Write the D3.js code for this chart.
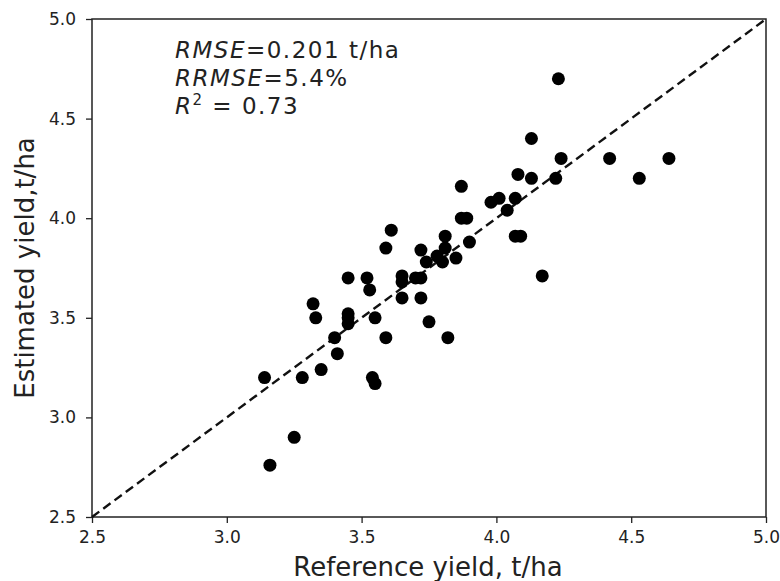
<!DOCTYPE html>
<html>
<head>
<meta charset="utf-8">
<script src="https://cdn.jsdelivr.net/npm/d3@7"></script>
<style>
  body { margin: 0; background: #fff; }
  text { font-family: "DejaVu Sans", sans-serif; fill: #222; }
</style>
</head>
<body>
<div class="scatter"></div>
<script>
// data
var referenceYield = [3.14, 3.16, 3.25, 3.28, 3.35, 3.41, 3.40, 3.32, 3.33, 3.45,
  3.45, 3.45, 3.45, 3.52, 3.53, 3.55, 3.54, 3.55, 3.59, 3.59,
  3.61, 3.65, 3.65, 3.65, 3.70, 3.72, 3.72, 3.72, 3.75, 3.82,
  3.74, 3.78, 3.80, 3.85, 3.81, 3.81, 3.90, 3.87, 3.89, 3.87,
  3.98, 4.01, 4.07, 4.04, 4.08, 4.07, 4.09, 4.17, 4.13, 4.13,
  4.23, 4.22, 4.24, 4.42, 4.53, 4.64];
var estimatedYield = [3.20, 2.76, 2.90, 3.20, 3.24, 3.32, 3.40, 3.57, 3.50, 3.52,
  3.50, 3.47, 3.70, 3.70, 3.64, 3.50, 3.20, 3.17, 3.40, 3.85,
  3.94, 3.71, 3.68, 3.60, 3.70, 3.70, 3.60, 3.84, 3.48, 3.40,
  3.78, 3.81, 3.78, 3.80, 3.85, 3.91, 3.88, 4.00, 4.00, 4.16,
  4.08, 4.10, 4.10, 4.04, 4.22, 3.91, 3.91, 3.71, 4.20, 4.40,
  4.70, 4.20, 4.30, 4.30, 4.20, 4.30];
var tickValues = [2.5, 3.0, 3.5, 4.0, 4.5, 5.0];
var statLines = [
  { name: "RMSE", rest: "=0.201 t/ha" },
  { name: "RRMSE", rest: "=5.4%" },
  { name: "R", sup: "2", rest: " = 0.73" }
];

var svgWidth = 780;
var svgHeight = 581;
var margin = { top: 19, right: 14, bottom: 64, left: 92 };
var width = svgWidth - margin.left - margin.right;
var height = svgHeight - margin.top - margin.bottom;

var svg = d3.select(".scatter")
  .append("svg")
  .attr("width", svgWidth)
  .attr("height", svgHeight);

var chartGroup = svg.append("g")
  .attr("transform", `translate(${margin.left}, ${margin.top})`);

var x = d3.scaleLinear().domain([2.5, 5.0]).range([0, width]);
var y = d3.scaleLinear().domain([2.5, 5.0]).range([height, 0]);

// axes
var xAxis = chartGroup.append("g")
  .attr("transform", `translate(0, ${height})`)
  .call(d3.axisBottom(x).tickValues(tickValues).tickFormat(d3.format(".1f")).tickSize(6).tickPadding(8));
var yAxis = chartGroup.append("g")
  .call(d3.axisLeft(y).tickValues(tickValues).tickFormat(d3.format(".1f")).tickSize(6).tickPadding(10));
[xAxis, yAxis].forEach(function(a) {
  a.select(".domain").remove();
  a.selectAll("line").attr("stroke", "#222").attr("stroke-width", 1.3);
  a.selectAll("text").style("font-size", "17px").attr("fill", "#222");
});

// frame
chartGroup.append("rect")
  .attr("width", width)
  .attr("height", height)
  .attr("fill", "none")
  .attr("stroke", "#222")
  .attr("stroke-width", 1.5);

// 1:1 line
chartGroup.append("line")
  .attr("x1", x(2.5)).attr("y1", y(2.5))
  .attr("x2", x(5.0)).attr("y2", y(5.0))
  .attr("stroke", "#111")
  .attr("stroke-width", 2.4)
  .attr("stroke-dasharray", "9,5");

// dots
chartGroup.append("g")
  .selectAll("circle")
  .data(referenceYield)
  .join("circle")
  .attr("cx", function(d) { return x(d); })
  .attr("cy", function(d, i) { return y(estimatedYield[i]); })
  .attr("r", 6.5)
  .style("fill", "#000");

// stats text
var stats = chartGroup.append("g");
statLines.forEach(function(s, i) {
  var t = stats.append("text")
    .attr("x", 83)
    .attr("y", 38.5 + i * 28)
    .style("font-size", "23px")
    .style("letter-spacing", "1.5px");
  t.append("tspan").style("font-style", "italic").text(s.name);
  if (s.sup) {
    t.append("tspan").attr("dy", -9).style("font-size", "15px").text(s.sup);
    t.append("tspan").attr("dy", 9).text(s.rest);
  } else {
    t.append("tspan").text(s.rest);
  }
});

// axis labels
svg.append("text")
  .attr("x", margin.left + width / 2 - 1)
  .attr("y", 576)
  .attr("text-anchor", "middle")
  .style("font-size", "26px")
  .text("Reference yield, t/ha");

svg.append("text")
  .attr("transform", `translate(34, ${margin.top + height / 2}) rotate(-90)`)
  .attr("text-anchor", "middle")
  .style("font-size", "26px")
  .text("Estimated yield,t/ha");
</script>
</body>
</html>
